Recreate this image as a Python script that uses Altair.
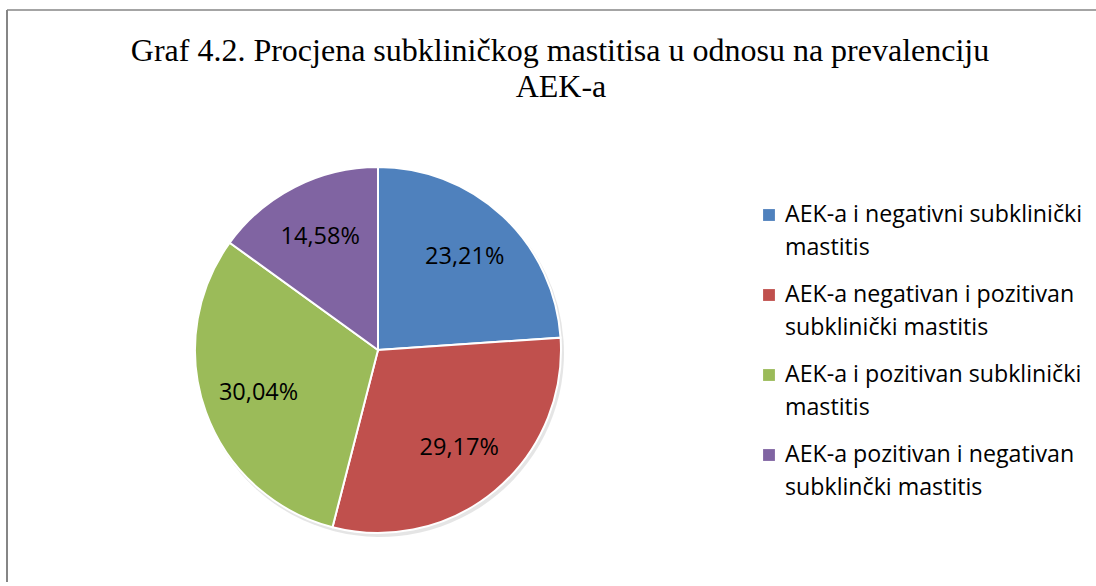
import altair as alt
import pandas as pd

categories = [
    "AEK-a i negativni subklinički mastitis",
    "AEK-a negativan i pozitivan subklinički mastitis",
    "AEK-a i pozitivan subklinički mastitis",
    "AEK-a pozitivan i negativan subklinčki mastitis",
]
legend_line1 = [
    "AEK-a i negativni subklinički",
    "AEK-a negativan i pozitivan",
    "AEK-a i pozitivan subklinički",
    "AEK-a pozitivan i negativan",
]
legend_line2 = ["mastitis", "subklinički mastitis", "mastitis", "subklinčki mastitis"]
values = [23.21, 29.17, 30.04, 14.58]
value_labels = ["23,21%", "29,17%", "30,04%", "14,58%"]
colors = ["#4F81BD", "#C0504D", "#9BBB59", "#8064A2"]
title_lines = ["Graf 4.2. Procjena subkliničkog mastitisa u odnosu na prevalenciju", "AEK-a"]

df = pd.DataFrame({
    "cat": categories,
    "line1": legend_line1,
    "line2": legend_line2,
    "value": values,
    "label": value_labels,
    "idx": list(range(len(categories))),
})
one = pd.DataFrame({"t1": [title_lines[0]], "t2": [title_lines[1]]})

SANS = "Open Sans"
SERIF = "Liberation Serif"

color = alt.Color("cat:N", scale=alt.Scale(domain=categories, range=colors), legend=None)

base = alt.Chart(df).encode(
    theta=alt.Theta("value:Q", stack=True),
    order=alt.Order("idx:Q"),
    x=alt.value(378),
    y=alt.value(350),
)
shadow = base.mark_arc(radius=184, color="#000000", opacity=0.10).encode(
    x=alt.value(380), y=alt.value(353)
)
pie = base.mark_arc(radius=183, stroke="white", strokeWidth=2).encode(color=color)
labels = base.mark_text(radius=127, font=SANS, fontSize=23.5, color="black").encode(text="label:N")

leg_y = alt.Y(
    "cat:N",
    scale=alt.Scale(domain=categories, type="point", range=[215, 455], padding=0),
    axis=None,
)
squares = alt.Chart(df).mark_square(size=140, opacity=1).encode(
    x=alt.value(769), y=leg_y, color=color
)
leg1 = alt.Chart(df).mark_text(
    align="left", baseline="middle", font=SANS, fontSize=23.2, color="black"
).encode(x=alt.value(785), y=leg_y, text="line1:N")
leg2 = alt.Chart(df).mark_text(
    align="left", baseline="middle", font=SANS, fontSize=23.2, color="black", dy=32.5
).encode(x=alt.value(785), y=leg_y, text="line2:N")

title1 = alt.Chart(one).mark_text(
    align="center", baseline="alphabetic", font=SERIF, fontSize=32, color="black"
).encode(x=alt.value(560), y=alt.value(61), text="t1:N")
title2 = alt.Chart(one).mark_text(
    align="center", baseline="alphabetic", font=SERIF, fontSize=32, color="black"
).encode(x=alt.value(561), y=alt.value(97), text="t2:N")

border_left = alt.Chart(one).mark_rule(color="#868686", strokeWidth=2).encode(
    x=alt.value(7), y=alt.value(10), y2=alt.value(590)
)
border_top = alt.Chart(one).mark_rule(color="#868686", strokeWidth=1.5).encode(
    x=alt.value(7), x2=alt.value(1100), y=alt.value(10)
)

chart = alt.layer(
    border_left, border_top, title1, title2, shadow, pie, labels, squares, leg1, leg2
).properties(
    width=1096, height=582, padding=0, autosize=alt.AutoSizeParams(type="none"), background="white"
).configure_view(stroke=None)

chart.save("out.html", embed_options={"renderer": "svg", "actions": False})
